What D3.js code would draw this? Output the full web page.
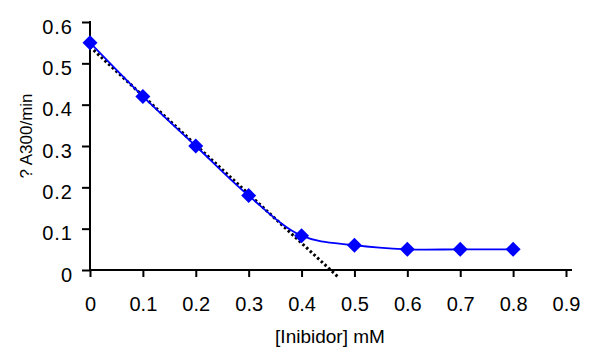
<!doctype html>
<html>
  <head>
    <meta charset="UTF-8"/>
    <title>Chart</title>
    <script src="https://d3js.org/d3.v7.min.js"></script>
    <style>
      body { margin: 0; padding: 0; background: #fff; }
      svg text { font-family: Arial, "Liberation Sans", sans-serif; fill: #000; }
    </style>
  </head>
  <body>
    <script>
      const inhibitor = [0, 0.1, 0.2, 0.3, 0.4, 0.5, 0.6, 0.7, 0.8];
      const rate = [0.55, 0.42, 0.30, 0.18, 0.083, 0.06, 0.05, 0.05, 0.05];
      const trendX = [0, 0.47];
      const trendY = [0.54, -0.018];
      const xTicks = [0, 0.1, 0.2, 0.3, 0.4, 0.5, 0.6, 0.7, 0.8, 0.9];
      const yTicks = [0, 0.1, 0.2, 0.3, 0.4, 0.5, 0.6];

      const W = 589, H = 349;
      const svg = d3.select("body").append("svg").attr("width", W).attr("height", H);

      const x = d3.scaleLinear().domain([0, 0.9]).range([90, 566]);
      const y = d3.scaleLinear().domain([0, 0.6]).range([270, 22]);
      const fmt = d => d === 0 ? "0" : d3.format(".1f")(d);

      // axes
      const xAxis = svg.append("g").attr("transform", "translate(0,270)")
        .call(d3.axisBottom(x).tickValues(xTicks).tickSize(7).tickPadding(20).tickFormat(fmt));
      const yAxis = svg.append("g").attr("transform", "translate(90,0)")
        .call(d3.axisLeft(y).tickValues(yTicks).tickSize(8).tickPadding(9).tickFormat(fmt));
      [xAxis, yAxis].forEach(a => {
        a.select(".domain").attr("stroke", "#000").attr("stroke-width", 2);
        a.selectAll(".tick line").attr("stroke", "#000").attr("stroke-width", 2);
        a.selectAll("text").style("font-size", "20px").attr("fill", "#000");
      });
      yAxis.selectAll("text").attr("dy", "0.55em").style("letter-spacing", "1px");
      xAxis.select(".domain").attr("d", "M90,0H572");
      yAxis.select(".domain").attr("d", "M0,270V21");

      // trendline
      const trend = trendX.map((v, i) => [v, trendY[i]]);
      svg.append("path")
        .attr("d", d3.line().x(d => x(d[0])).y(d => y(d[1]))(trend))
        .attr("fill", "none").attr("stroke", "#000")
        .attr("stroke-width", 3).attr("stroke-dasharray", "2.5,2.5");

      // data line
      const pts = inhibitor.map((v, i) => [v, rate[i]]);
      svg.append("path")
        .attr("d", d3.line().curve(d3.curveCatmullRom).x(d => x(d[0])).y(d => y(d[1]))(pts))
        .attr("fill", "none").attr("stroke", "#0000ff").attr("stroke-width", 1.8);

      svg.selectAll(".pt").data(pts).enter().append("path")
        .attr("class", "pt")
        .attr("transform", d => `translate(${x(d[0])},${y(d[1])})`)
        .attr("d", "M0,-7.5L7.5,0L0,7.5L-7.5,0Z")
        .attr("fill", "#0000ff");

      // titles
      svg.append("text").attr("x", 330).attr("y", 343).attr("text-anchor", "middle")
        .style("font-size", "19px").text("[Inibidor] mM");
      svg.append("text").attr("transform", "translate(32,136) rotate(-90)")
        .attr("text-anchor", "middle").style("font-size", "17px")
        .text("? A300/min");
    </script>
  </body>
</html>
